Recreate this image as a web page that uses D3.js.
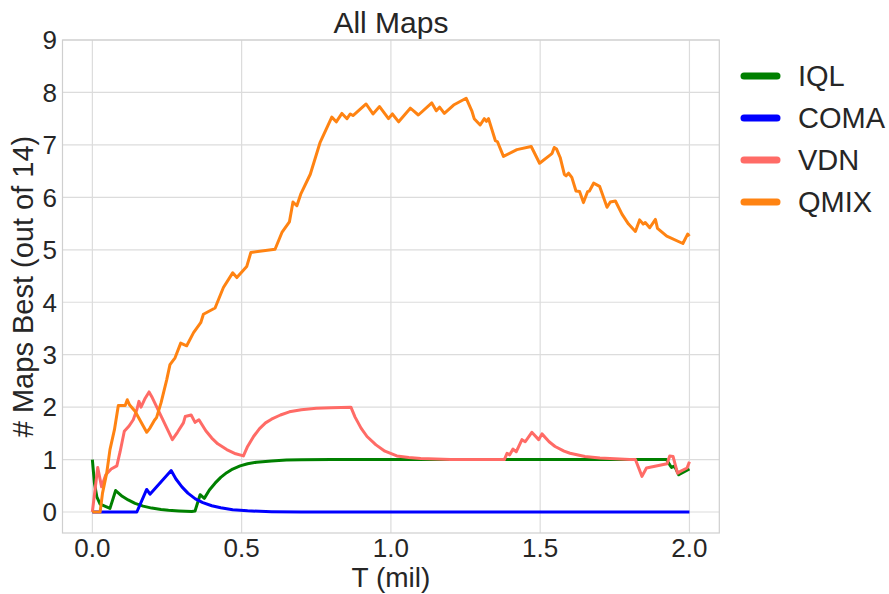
<!DOCTYPE html>
<html>
<head>
<meta charset="utf-8">
<script src="https://cdn.jsdelivr.net/npm/d3@7"></script>
<style>
  body { margin: 0; background: #fff; }
  text { font-family: "Liberation Sans", Arial, sans-serif; fill: #262626; }
</style>
</head>
<body>
<div id="chart"></div>
<script>
// data: [T (mil), # maps best]
var iql = [[0,1.0],[0.007,0.55],[0.015,0.29],[0.026,0.15],[0.059,0.07],[0.078,0.41],[0.1,0.30],[0.12,0.23],
  [0.143,0.165],[0.17,0.113],[0.199,0.075],[0.23,0.049],[0.255,0.034],[0.29,0.021],[0.333,0.01],[0.344,0.02],
  [0.361,0.33],[0.375,0.26],[0.392,0.42],[0.411,0.55],[0.43,0.66],[0.45,0.75],[0.47,0.82],[0.495,0.88],
  [0.52,0.92],[0.55,0.95],[0.6,0.975],[0.65,0.99],[0.7,0.995],[0.8,1.0],[1.0,1.0],[1.5,1.0],[1.923,1.0],
  [1.934,0.9],[1.94,0.85],[1.947,0.87],[1.953,0.84],[1.964,0.71],[2.0,0.82]];

var coma = [[0,0],[0.149,0],[0.182,0.43],[0.193,0.34],[0.264,0.79],[0.28,0.63],[0.3,0.48],[0.32,0.36],
  [0.345,0.25],[0.37,0.18],[0.4,0.12],[0.43,0.08],[0.47,0.044],[0.52,0.022],[0.6,0.007],[0.7,0],[2.0,0]];

var vdn = [[0,0],[0.018,0.85],[0.031,0.48],[0.045,0.71],[0.063,0.82],[0.082,0.88],[0.093,1.15],[0.107,1.54],
  [0.123,1.64],[0.137,1.76],[0.149,1.95],[0.156,2.11],[0.163,2.0],[0.177,2.17],[0.19,2.29],[0.199,2.2],
  [0.268,1.38],[0.285,1.52],[0.305,1.7],[0.311,1.82],[0.331,1.85],[0.344,1.71],[0.357,1.76],[0.38,1.55],
  [0.40,1.41],[0.42,1.30],[0.45,1.19],[0.48,1.11],[0.506,1.07],[0.52,1.25],[0.54,1.44],[0.56,1.59],
  [0.58,1.70],[0.60,1.77],[0.63,1.85],[0.66,1.91],[0.70,1.95],[0.75,1.98],[0.80,1.99],[0.866,2.0],
  [0.88,1.81],[0.90,1.60],[0.92,1.44],[0.95,1.28],[0.98,1.16],[1.02,1.07],[1.06,1.04],[1.10,1.02],
  [1.2,1.0],[1.38,1.0],[1.389,1.12],[1.398,1.09],[1.409,1.2],[1.42,1.15],[1.439,1.38],[1.45,1.34],
  [1.472,1.52],[1.495,1.38],[1.506,1.49],[1.53,1.34],[1.55,1.25],[1.58,1.16],[1.6,1.12],[1.65,1.06],
  [1.7,1.03],[1.8,1.0],[1.819,1.0],[1.841,0.68],[1.856,0.84],[1.925,0.92],[1.934,1.07],[1.945,1.06],
  [1.96,0.74],[1.968,0.77],[1.992,0.84],[2.0,0.96]];

var qmix = [[0,0],[0.026,0],[0.034,0.36],[0.048,0.74],[0.059,1.19],[0.074,1.57],[0.087,2.03],[0.11,2.03],
  [0.117,2.14],[0.125,2.04],[0.143,1.92],[0.182,1.52],[0.193,1.6],[0.208,1.75],[0.215,1.8],[0.23,2.08],
  [0.249,2.52],[0.26,2.81],[0.277,2.94],[0.296,3.22],[0.316,3.17],[0.339,3.42],[0.363,3.61],[0.372,3.77],
  [0.411,3.89],[0.439,4.28],[0.47,4.56],[0.484,4.47],[0.517,4.68],[0.531,4.95],[0.612,5.01],[0.635,5.33],
  [0.66,5.53],[0.672,5.91],[0.685,5.84],[0.698,6.06],[0.73,6.44],[0.763,7.05],[0.802,7.53],[0.817,7.44],
  [0.836,7.6],[0.853,7.5],[0.864,7.59],[0.873,7.56],[0.917,7.78],[0.94,7.59],[0.962,7.73],[0.992,7.5],
  [1.005,7.59],[1.026,7.44],[1.065,7.7],[1.076,7.65],[1.092,7.57],[1.137,7.8],[1.152,7.65],[1.163,7.72],
  [1.179,7.6],[1.21,7.76],[1.252,7.89],[1.271,7.65],[1.279,7.5],[1.299,7.38],[1.313,7.5],[1.32,7.45],
  [1.327,7.5],[1.35,7.08],[1.357,7.06],[1.377,6.78],[1.422,6.91],[1.47,6.97],[1.498,6.65],[1.534,6.81],
  [1.54,6.84],[1.547,6.95],[1.555,6.92],[1.567,6.76],[1.581,6.44],[1.587,6.41],[1.595,6.46],[1.606,6.38],
  [1.62,6.12],[1.632,6.11],[1.645,5.9],[1.659,6.11],[1.665,6.12],[1.679,6.27],[1.699,6.21],[1.724,5.81],
  [1.735,5.91],[1.752,5.93],[1.774,5.68],[1.796,5.49],[1.819,5.35],[1.833,5.57],[1.845,5.49],[1.852,5.52],
  [1.867,5.42],[1.886,5.58],[1.893,5.41],[1.924,5.26],[1.978,5.12],[1.994,5.3],[2.0,5.26]];

var names = ["IQL", "COMA", "VDN", "QMIX"];
var colors = ["#008000", "#0000ff", "#ff6b66", "#ff8312"];
var series = [iql, coma, vdn, qmix];
var xTicks = [0, 0.5, 1.0, 1.5, 2.0];
var yTicks = [0, 1, 2, 3, 4, 5, 6, 7, 8, 9];

var width = 889, height = 594;
var plotLeft = 62.5, plotRight = 719.3, plotTop = 40, plotBottom = 533;

var svg = d3.select("#chart").append("svg")
    .attr("width", width)
    .attr("height", height);

var x = d3.scaleLinear().domain([-0.1, 2.1]).range([plotLeft, plotRight]);
var y = d3.scaleLinear().domain([-0.4, 9]).range([plotBottom, plotTop]);

// grid
svg.append("g").selectAll("line").data(xTicks).enter().append("line")
    .attr("x1", d => x(d)).attr("x2", d => x(d))
    .attr("y1", plotTop).attr("y2", plotBottom)
    .attr("stroke", "#dcdcdc").attr("stroke-width", 1.2);
svg.append("g").selectAll("line").data(yTicks).enter().append("line")
    .attr("x1", plotLeft).attr("x2", plotRight)
    .attr("y1", d => y(d)).attr("y2", d => y(d))
    .attr("stroke", "#dcdcdc").attr("stroke-width", 1.2);

// frame
svg.append("rect")
    .attr("x", plotLeft).attr("y", plotTop)
    .attr("width", plotRight - plotLeft).attr("height", plotBottom - plotTop)
    .attr("fill", "none").attr("stroke", "#cfcfcf").attr("stroke-width", 1.2);

// tick labels
svg.append("g").selectAll("text").data(xTicks).enter().append("text")
    .attr("x", d => x(d)).attr("y", 557)
    .attr("text-anchor", "middle")
    .style("font-size", "26px")
    .text(d => d3.format(".1f")(d));
svg.append("g").selectAll("text").data(yTicks).enter().append("text")
    .attr("x", 57).attr("y", d => y(d))
    .attr("dy", "0.36em")
    .attr("text-anchor", "end")
    .style("font-size", "26px")
    .text(d => d);

// axis labels + title
svg.append("text")
    .attr("x", (plotLeft + plotRight) / 2).attr("y", 587)
    .attr("text-anchor", "middle")
    .style("font-size", "28px")
    .text("T (mil)");
svg.append("text")
    .attr("transform", "translate(33," + (plotTop + plotBottom) / 2 + ") rotate(-90)")
    .attr("text-anchor", "middle")
    .style("font-size", "29px")
    .text("# Maps Best (out of 14)");
svg.append("text")
    .attr("x", (plotLeft + plotRight) / 2).attr("y", 33)
    .attr("text-anchor", "middle")
    .style("font-size", "30px")
    .text("All Maps");

// lines
var line = d3.line()
    .x(d => x(d[0]))
    .y(d => y(d[1]));

svg.append("g").selectAll("path").data(series).enter().append("path")
    .attr("d", d => line(d))
    .attr("fill", "none")
    .attr("stroke", (d, i) => colors[i])
    .attr("stroke-width", 3)
    .attr("stroke-linejoin", "round");

// legend
var legend = svg.append("g").selectAll("g").data(names).enter().append("g")
    .attr("transform", (d, i) => "translate(0," + (76 + i * 42) + ")");
legend.append("line")
    .attr("x1", 744).attr("x2", 777)
    .attr("stroke", (d, i) => colors[i])
    .attr("stroke-width", 7)
    .attr("stroke-linecap", "round");
legend.append("text")
    .attr("x", 798).attr("dy", "0.36em")
    .style("font-size", "29px")
    .text(d => d);
</script>
</body>
</html>
